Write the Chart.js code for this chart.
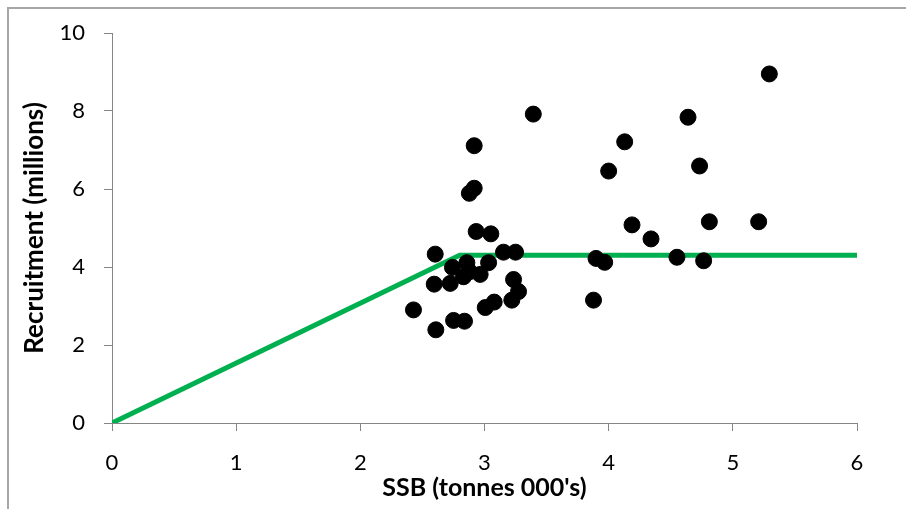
<!DOCTYPE html>
<html>
<head>
<meta charset="utf-8">
<script src="https://cdn.jsdelivr.net/npm/chart.js@4"></script>
<style>
    html, body { margin: 0; padding: 0; background: #fff; overflow: hidden; }
    #wrap { position: relative; width: 906px; height: 509px; }
    #frame {
        position: absolute; left: 7px; top: 7px; width: 920px; height: 540px;
        border: 2px solid #a6a6a6; box-sizing: border-box; pointer-events: none;
    }
    canvas { position: absolute; left: 0; top: 0; }
</style>
</head>
<body>
<div id="wrap">
    <canvas id="stock-recruit-chart" width="906" height="509"></canvas>
    <div id="frame"></div>
</div>
<script>
// Observed stock / recruitment pairs
const ssbValues = [
    2.917, 2.917, 2.878, 2.933, 3.051, 2.603, 3.153, 3.250, 2.858, 3.033,
    2.742, 2.831, 2.965, 2.880, 2.595, 2.724, 3.234, 3.274, 3.220, 3.078,
    3.006, 2.428, 2.751, 2.839, 2.608, 3.393, 5.294, 4.639, 4.129, 4.000,
    4.732, 4.811, 5.208, 4.188, 4.341, 3.898, 3.968, 4.550, 4.765, 3.878
];
const recruitValues = [
    7.11, 6.02, 5.89, 4.91, 4.85, 4.33, 4.38, 4.38, 4.11, 4.11,
    3.99, 3.75, 3.81, 3.88, 3.56, 3.58, 3.68, 3.37, 3.15, 3.10,
    2.96, 2.90, 2.63, 2.61, 2.39, 7.92, 8.95, 7.84, 7.21, 6.46,
    6.59, 5.16, 5.16, 5.08, 4.72, 4.22, 4.12, 4.25, 4.16, 3.15
];

// Hockey-stick fit (segmented regression)
const fitSsb = [0, 2.80, 6];
const fitRecruit = [0, 4.30, 4.30];

const xTicks = [0, 1, 2, 3, 4, 5, 6];
const yTicks = [0, 2, 4, 6, 8, 10];

const axisGrey = '#868686';
const labelFont = 'Lato, "Open Sans", sans-serif';

function toPoints(xs, ys) {
    return xs.map((x, i) => ({ x: x, y: ys[i] }));
}

const ctx = document.getElementById('stock-recruit-chart').getContext('2d');

new Chart(ctx, {
    type: 'scatter',
    data: {
        datasets: [{
            label: 'Observed',
            data: toPoints(ssbValues, recruitValues),
            backgroundColor: '#000',
            borderColor: '#000',
            pointRadius: 8,
            pointHoverRadius: 8,
            order: 1
        }, {
            type: 'line',
            label: 'Fit',
            data: toPoints(fitSsb, fitRecruit),
            borderColor: '#00b050',
            borderWidth: 5,
            borderCapStyle: 'round',
            borderJoinStyle: 'miter',
            pointRadius: 0,
            fill: false,
            tension: 0,
            order: 2
        }]
    },
    options: {
        responsive: false,
        animation: false,
        layout: {
            padding: { left: 0, right: 49, top: 33, bottom: 0 }
        },
        plugins: {
            legend: { display: false },
            tooltip: { enabled: false }
        },
        scales: {
            x: {
                type: 'linear',
                min: 0,
                max: 6,
                afterBuildTicks: axis => { axis.ticks = xTicks.map(v => ({ value: v })); },
                afterFit: axis => { axis.height = 86; },
                border: { color: axisGrey, width: 1 },
                grid: { drawOnChartArea: false, drawTicks: true, tickLength: 8, color: axisGrey },
                ticks: {
                    color: '#000',
                    padding: 19,
                    font: { family: labelFont, size: 22 }
                },
                title: {
                    display: true,
                    text: "SSB (tonnes 000's)",
                    color: '#000',
                    padding: { top: 0, bottom: 6 },
                    font: { family: labelFont, size: 25, weight: 'bold' }
                }
            },
            y: {
                type: 'linear',
                min: 0,
                max: 10,
                afterBuildTicks: axis => { axis.ticks = yTicks.map(v => ({ value: v })); },
                afterFit: axis => { axis.width = 112; },
                border: { color: axisGrey, width: 1 },
                grid: { drawOnChartArea: false, drawTicks: true, tickLength: 8, color: axisGrey },
                ticks: {
                    color: '#000',
                    padding: 19,
                    font: { family: labelFont, size: 22 }
                },
                title: {
                    display: true,
                    text: 'Recruitment (millions)',
                    color: '#000',
                    padding: { top: 19, bottom: 0 },
                    font: { family: labelFont, size: 26, weight: 'bold' }
                }
            }
        }
    }
});
</script>
</body>
</html>
